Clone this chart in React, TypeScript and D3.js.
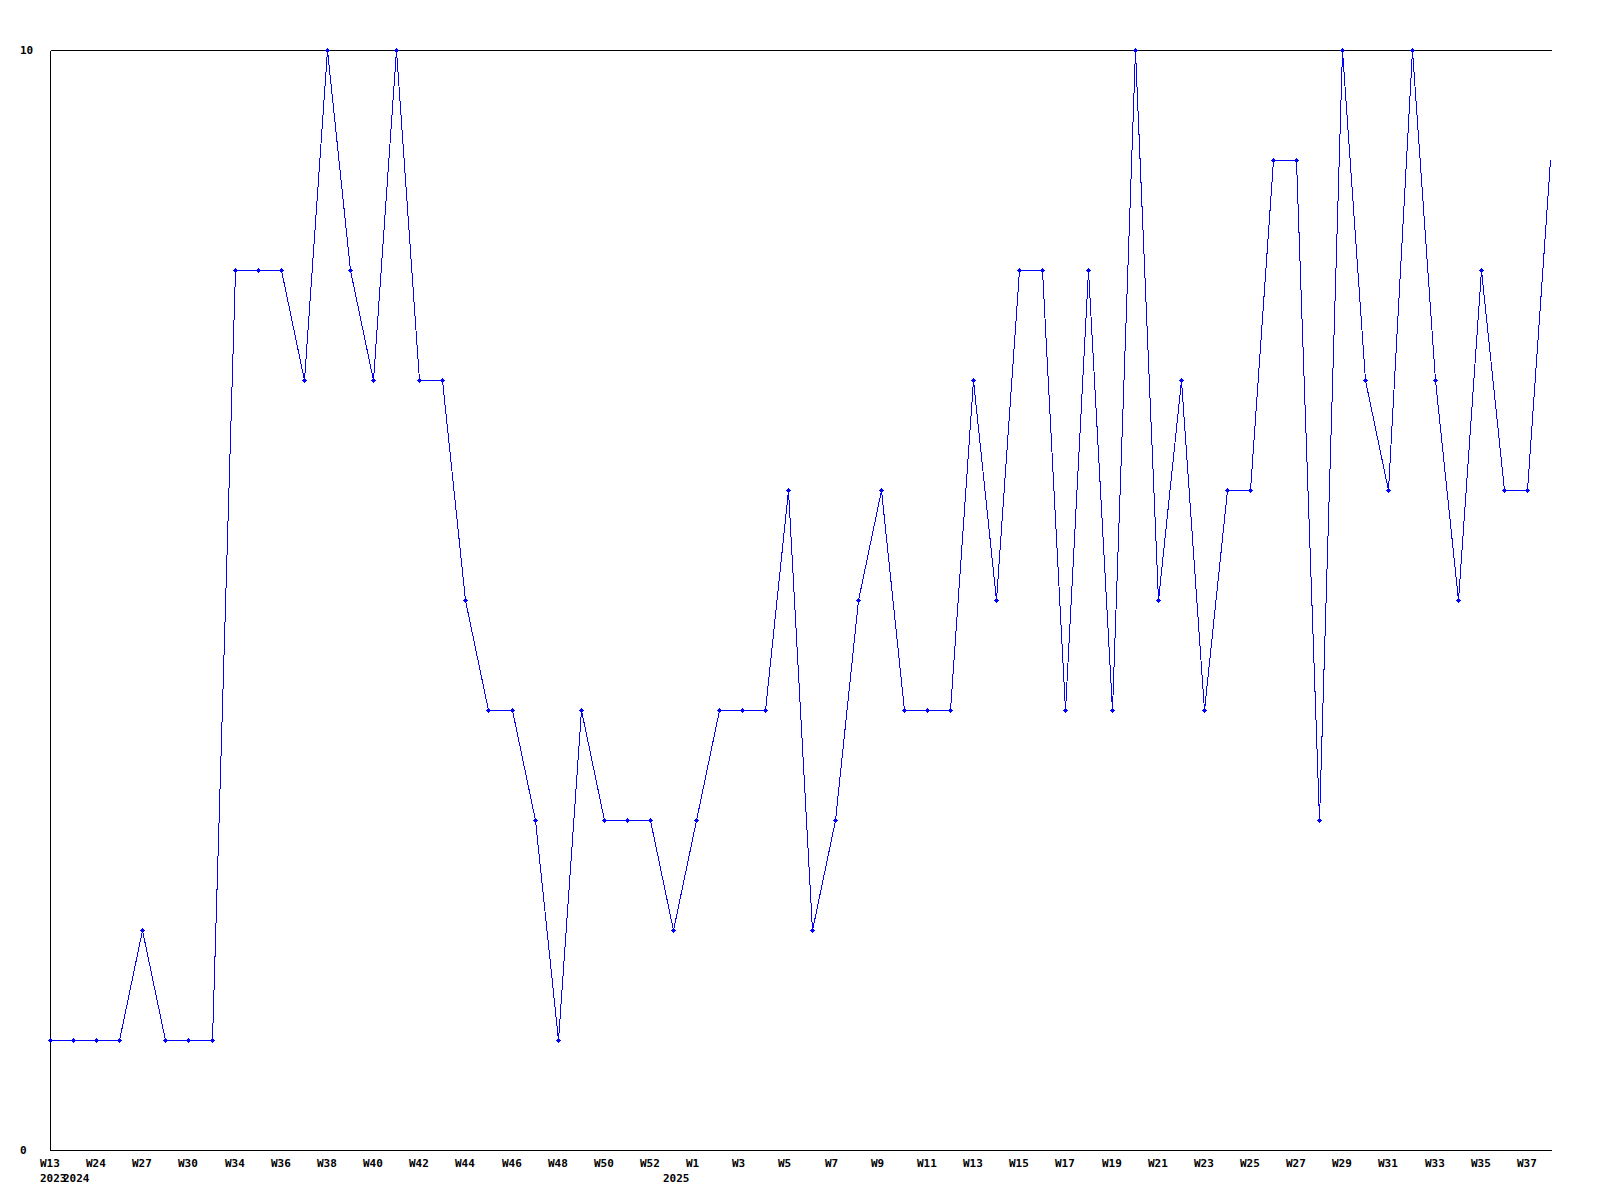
import React from "react";
import * as d3 from "d3";

const weeks: string[] = [
  "W13", "W23", "W24", "W25", "W27", "W29", "W30", "W32", "W34", "W35",
  "W36", "W37", "W38", "W39", "W40", "W41", "W42", "W43", "W44", "W45",
  "W46", "W47", "W48", "W49", "W50", "W51", "W52", "W0", "W1", "W2",
  "W3", "W4", "W5", "W6", "W7", "W8", "W9", "W10", "W11", "W12",
  "W13", "W14", "W15", "W16", "W17", "W18", "W19", "W20", "W21", "W22",
  "W23", "W24", "W25", "W26", "W27", "W28", "W29", "W30", "W31", "W32",
  "W33", "W34", "W35", "W36", "W37", "W38",
];

const values: number[] = [
  1, 1, 1, 1, 2, 1, 1, 1, 8, 8,
  8, 7, 10, 8, 7, 10, 7, 7, 5, 4,
  4, 3, 1, 4, 3, 3, 3, 2, 3, 4,
  4, 4, 6, 2, 3, 5, 6, 4, 4, 4,
  7, 5, 8, 8, 4, 8, 4, 10, 5, 7,
  4, 6, 6, 9, 9, 3, 10, 7, 6, 10,
  7, 5, 8, 6, 6, 9,
];

const yearMarks: { index: number; label: string }[] = [
  { index: 0, label: "2023" },
  { index: 1, label: "2024" },
  { index: 27, label: "2025" },
];

const yTickValues: number[] = [0, 10];

const W = 1600;
const H = 1200;
const left = 50;
const right = 1550;
const axisRight = 1551;
const top = 50;
const bottom = 1150;
const font = "'DejaVu Sans Mono', monospace";

export default function App() {
  const x = d3.scaleLinear().domain([0, values.length - 1]).range([left, right]);
  const y = d3.scaleLinear().domain([0, 10]).range([bottom, top]);
  const line = d3
    .line<number>()
    .x((_, i) => Math.round(x(i)) + 0.5)
    .y((d) => Math.round(y(d)) + 0.5);
  const px = (v: number) => Math.round(v) + 0.5;

  return (
    <svg
      width={W}
      height={H}
      style={{ position: "absolute", left: 0, top: 0, background: "#fff" }}
    >
      <rect x={0} y={0} width={W} height={H} fill="#fff" />
      <g stroke="#000" strokeWidth={1} shapeRendering="crispEdges">
        <line x1={px(left)} x2={px(axisRight)} y1={px(top)} y2={px(top)} />
        <line x1={px(left)} x2={px(left)} y1={px(top)} y2={px(bottom)} />
        <line x1={px(left)} x2={px(axisRight)} y1={px(bottom)} y2={px(bottom)} />
      </g>
      {yTickValues.map((v) => (
        <text
          key={v}
          x={20}
          y={y(v) + 4}
          fontFamily={font}
          fontWeight="bold"
          fontSize={11}
          fill="#000"
        >
          {v}
        </text>
      ))}
      {weeks.map((w, i) =>
        i % 2 === 0 ? (
          <text
            key={i}
            x={Math.round(x(i)) - 10}
            y={1167}
            fontFamily={font}
            fontWeight="bold"
            fontSize={11}
            fill="#000"
          >
            {w}
          </text>
        ) : null
      )}
      {yearMarks.map((m) => (
        <text
          key={m.label}
          x={Math.round(x(m.index)) - 10}
          y={1182}
          fontFamily={font}
          fontWeight="bold"
          fontSize={11}
          fill="#000"
        >
          {m.label}
        </text>
      ))}
      <path
        d={line(values) || ""}
        fill="none"
        stroke="#0000ff"
        strokeWidth={1}
        shapeRendering="crispEdges"
      />
      <g fill="#0000ff" shapeRendering="crispEdges">
        {values.map((v, i) => {
          if (i === values.length - 1) return null;
          const cx = Math.round(x(i)) + 0.5;
          const cy = Math.round(y(v)) + 0.5;
          return (
            <path
              key={i}
              d={`M${cx},${cy - 2.5}L${cx + 2.5},${cy}L${cx},${cy + 2.5}L${cx - 2.5},${cy}Z`}
            />
          );
        })}
      </g>
    </svg>
  );
}
